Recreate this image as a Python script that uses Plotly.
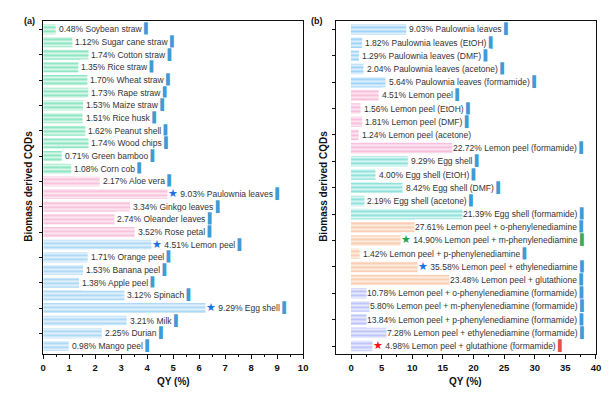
import plotly.graph_objects as go

# ---------------- data ----------------
left_names = ["Soybean straw", "Sugar cane straw", "Cotton straw", "Rice straw", "Wheat straw",
              "Rape straw", "Maize straw", "Rice husk", "Peanut shell", "Wood chips",
              "Green bamboo", "Corn cob", "Aloe vera", "Paulownia leaves", "Ginkgo leaves",
              "Oleander leaves", "Rose petal", "Lemon peel", "Orange peel", "Banana peel",
              "Apple peel", "Spinach", "Egg shell", "Milk", "Durian", "Mango peel"]
left_values = [0.48, 1.12, 1.74, 1.35, 1.70, 1.73, 1.53, 1.51, 1.62, 1.74, 0.71, 1.08,
               2.17, 9.03, 3.34, 2.74, 3.52, 4.51, 1.71, 1.53, 1.38, 3.12, 9.29, 3.21,
               2.25, 0.98]
left_groups = [0] * 12 + [1] * 5 + [2] * 9
left_stars = [""] * 13 + ["blue"] + [""] * 3 + ["blue"] + [""] * 4 + ["blue"] + [""] * 3
left_icons = ["blue"] * 26

right_names = ["Paulownia leaves", "Paulownia leaves (EtOH)", "Paulownia leaves (DMF)",
               "Paulownia leaves (acetone)", "Paulownia leaves (formamide)",
               "Lemon peel", "Lemon peel (EtOH)", "Lemon peel (DMF)", "Lemon peel (acetone)",
               "Lemon peel (formamide)",
               "Egg shell", "Egg shell (EtOH)", "Egg shell (DMF)", "Egg shell (acetone)",
               "Egg shell (formamide)",
               "Lemon peel + o-phenylenediamine", "Lemon peel + m-phenylenediamine",
               "Lemon peel + p-phenylenediamine", "Lemon peel + ethylenediamine",
               "Lemon peel + glutathione",
               "Lemon peel + o-phenylenediamine (formamide)",
               "Lemon peel + m-phenylenediamine (formamide)",
               "Lemon peel + p-phenylenediamine (formamide)",
               "Lemon peel + ethylenediamine (formamide)",
               "Lemon peel + glutathione (formamide)"]
right_values = [9.03, 1.82, 1.29, 2.04, 5.64, 4.51, 1.56, 1.81, 1.24, 22.72,
                9.29, 4.00, 8.42, 2.19, 21.39, 27.61, 14.90, 1.42, 35.58, 23.48,
                10.78, 5.80, 13.84, 7.28, 4.98]
right_groups = [0] * 5 + [1] * 5 + [2] * 5 + [3] * 5 + [4] * 5
right_stars = [""] * 16 + ["green", "", "blue", ""] + [""] * 4 + ["red"]
right_icons = ["blue"] * 8 + [""] + ["blue"] * 7 + ["green"] + ["blue"] * 7 + ["red"]

left_ticks = list(range(0, 11))
right_ticks = list(range(0, 41, 5))

# ---------------- styles ----------------
left_fg = ["#34d295", "#f598c6", "#72bdf0"]
left_bg = ["#eafaf3", "#fdeef5", "#ecf6fd"]
right_fg = ["#55b1f2", "#f594c5", "#3ccbc0", "#f6ab7c", "#8e9bf3"]
right_bg = ["#ecf6fe", "#fdedf5", "#e9f9f7", "#fef2ea", "#eff0fe"]
star_col = {"blue": "#1f6fe5", "green": "#18a848", "red": "#ef1515"}
icon_col = {"blue": "#3f9bd6", "green": "#3ba863", "red": "#e05050"}
TXT = "#333333"
LBL = 8.5
FONT = "Liberation Sans, Arial, sans-serif"

AW = {' ': 278, '.': 278, '%': 889, '+': 584, '(': 333, ')': 333, '-': 333,
      'a': 556, 'b': 556, 'c': 500, 'd': 556, 'e': 556, 'f': 278, 'g': 556, 'h': 556,
      'i': 222, 'j': 222, 'k': 500, 'l': 222, 'm': 833, 'n': 556, 'o': 556, 'p': 556,
      'q': 556, 'r': 333, 's': 500, 't': 278, 'u': 556, 'v': 500, 'w': 722, 'x': 500,
      'y': 500, 'z': 500, 'A': 667, 'B': 667, 'C': 722, 'D': 722, 'E': 667, 'F': 611,
      'G': 778, 'H': 722, 'M': 833, 'O': 778, 'P': 667, 'R': 722, 'S': 667, 'T': 611,
      'W': 944}


def tw(s, size):
    return 1.06 * sum(AW.get(c, 556) for c in s) / 1000.0 * size


STAR_W = 11 * 0.84 + tw(" ", LBL)
ICON_W = tw(" ", LBL) + 11 * 0.36

LX = [0.0535, 0.4845]
RX = [0.539, 0.970]
YD = [0.124, 0.966]
FIG_W, FIG_H = 611, 395

fig = go.Figure()


def add_panel(names, values, groups, fg, bg, xa, ya):
    for g in sorted(set(groups)):
        ys = [n for n, gg in zip(names, groups) if gg == g]
        xs = [v for v, gg in zip(values, groups) if gg == g]
        fig.add_trace(go.Bar(
            x=xs, y=ys, orientation="h", xaxis=xa, yaxis=ya, width=0.8,
            marker=dict(color=bg[g], line=dict(width=0),
                        pattern=dict(shape="-", fgcolor=fg[g], bgcolor=bg[g],
                                     size=4, solidity=0.6, fillmode="overlay")),
            showlegend=False, hoverinfo="skip"))


add_panel(left_names, left_values, left_groups, left_fg, left_bg, "x", "y")
add_panel(right_names, right_values, right_groups, right_fg, right_bg, "x2", "y2")

annotations = []


def label_text(name, v, star, icon):
    t = ""
    if star:
        t += f'<span style="color:{star_col[star]};font-size:11px">★</span> '
    t += f"{v:.2f}% {name}"
    if icon:
        t += f' <span style="color:{icon_col[icon]};font-size:10.5px">▌</span>'
    return t


def add_labels(names, values, stars, icons, xa, ya, xr, dom, mode):
    px_per = (dom[1] - dom[0]) * FIG_W / (xr[1] - xr[0])
    for n, v, s, ic in zip(names, values, stars, icons):
        body = tw(f"{v:.2f}% {n}", LBL) + (ICON_W if ic else 0)
        end_px = (v - xr[0]) * px_per + 2 + body
        limit_px = (xr[1] - xr[0]) * px_per - 6
        txt = label_text(n, v, s, ic)
        if end_px <= limit_px:
            a = dict(x=v, xanchor="left", xshift=2 - (STAR_W if s else 0))
        elif mode == "bar":
            a = dict(x=v, xanchor="right", xshift=(ICON_W if ic else 0))
        else:
            a = dict(x=mode, xanchor="right", xshift=0)
        a.update(dict(y=n, xref=xa, yref=ya, text=txt, showarrow=False, yanchor="middle",
                      font=dict(family=FONT, size=LBL, color=TXT),
                      bgcolor="white", borderpad=0))
        annotations.append(a)


add_labels(left_names, left_values, left_stars, left_icons, "x", "y", [0, 10], LX, "bar")
add_labels(right_names, right_values, right_stars, right_icons, "x2", "y2", [-2.45, 40], RX, 38.7)

bold = dict(family=FONT, size=10, color="#111111", weight="bold")
for xd, lab, lx in [(LX, "(a)", 19), (RX, "(b)", 310)]:
    annotations.append(dict(x=(xd[0] + xd[1]) / 2, y=1 - 373 / FIG_H, xref="paper", yref="paper",
                            text="QY (%)", showarrow=False, font=bold,
                            xanchor="center", yanchor="middle"))
    annotations.append(dict(x=lx / FIG_W, y=1 - 13 / FIG_H, xref="paper", yref="paper",
                            text=lab, showarrow=False,
                            font=dict(family=FONT, size=9, color="#111111", weight="bold"),
                            xanchor="center", yanchor="middle"))
for yx in [18, 317]:
    annotations.append(dict(x=yx / FIG_W, y=1 - 178 / FIG_H, xref="paper", yref="paper",
                            text="Biomass derived CQDs", showarrow=False, textangle=-90,
                            font=bold, xanchor="center", yanchor="middle"))

axis_common = dict(showline=True, linecolor="#111111", linewidth=1.2, mirror=True,
                   showgrid=False, zeroline=False, ticks="outside", tickcolor="#111111",
                   tickwidth=1)

fig.update_layout(
    width=FIG_W, height=FIG_H, margin=dict(l=0, r=0, t=0, b=0),
    plot_bgcolor="white", paper_bgcolor="white", bargap=0.2, barmode="overlay",
    font=dict(family=FONT, color=TXT),
    xaxis=dict(domain=LX, anchor="y", range=[0, 10], tickvals=left_ticks, ticklen=4,
               tickfont=dict(family=FONT, size=9.5, color="#111111", weight="bold"),
               minor=dict(ticks="outside", ticklen=2, dtick=0.5, tick0=0, tickcolor="#111111"),
               **axis_common),
    yaxis=dict(domain=YD, anchor="x", autorange="reversed", showticklabels=False, ticklen=3,
               **axis_common),
    xaxis2=dict(domain=RX, anchor="y2", range=[-2.45, 40], tickvals=right_ticks, ticklen=4,
                tickfont=dict(family=FONT, size=9.5, color="#111111", weight="bold"),
                minor=dict(ticks="outside", ticklen=2, dtick=2.5, tick0=0, tickcolor="#111111"),
                **axis_common),
    yaxis2=dict(domain=YD, anchor="x2", autorange="reversed", showticklabels=False, ticklen=3,
                **axis_common),
    annotations=annotations,
)

fig.write_html("out.html")
